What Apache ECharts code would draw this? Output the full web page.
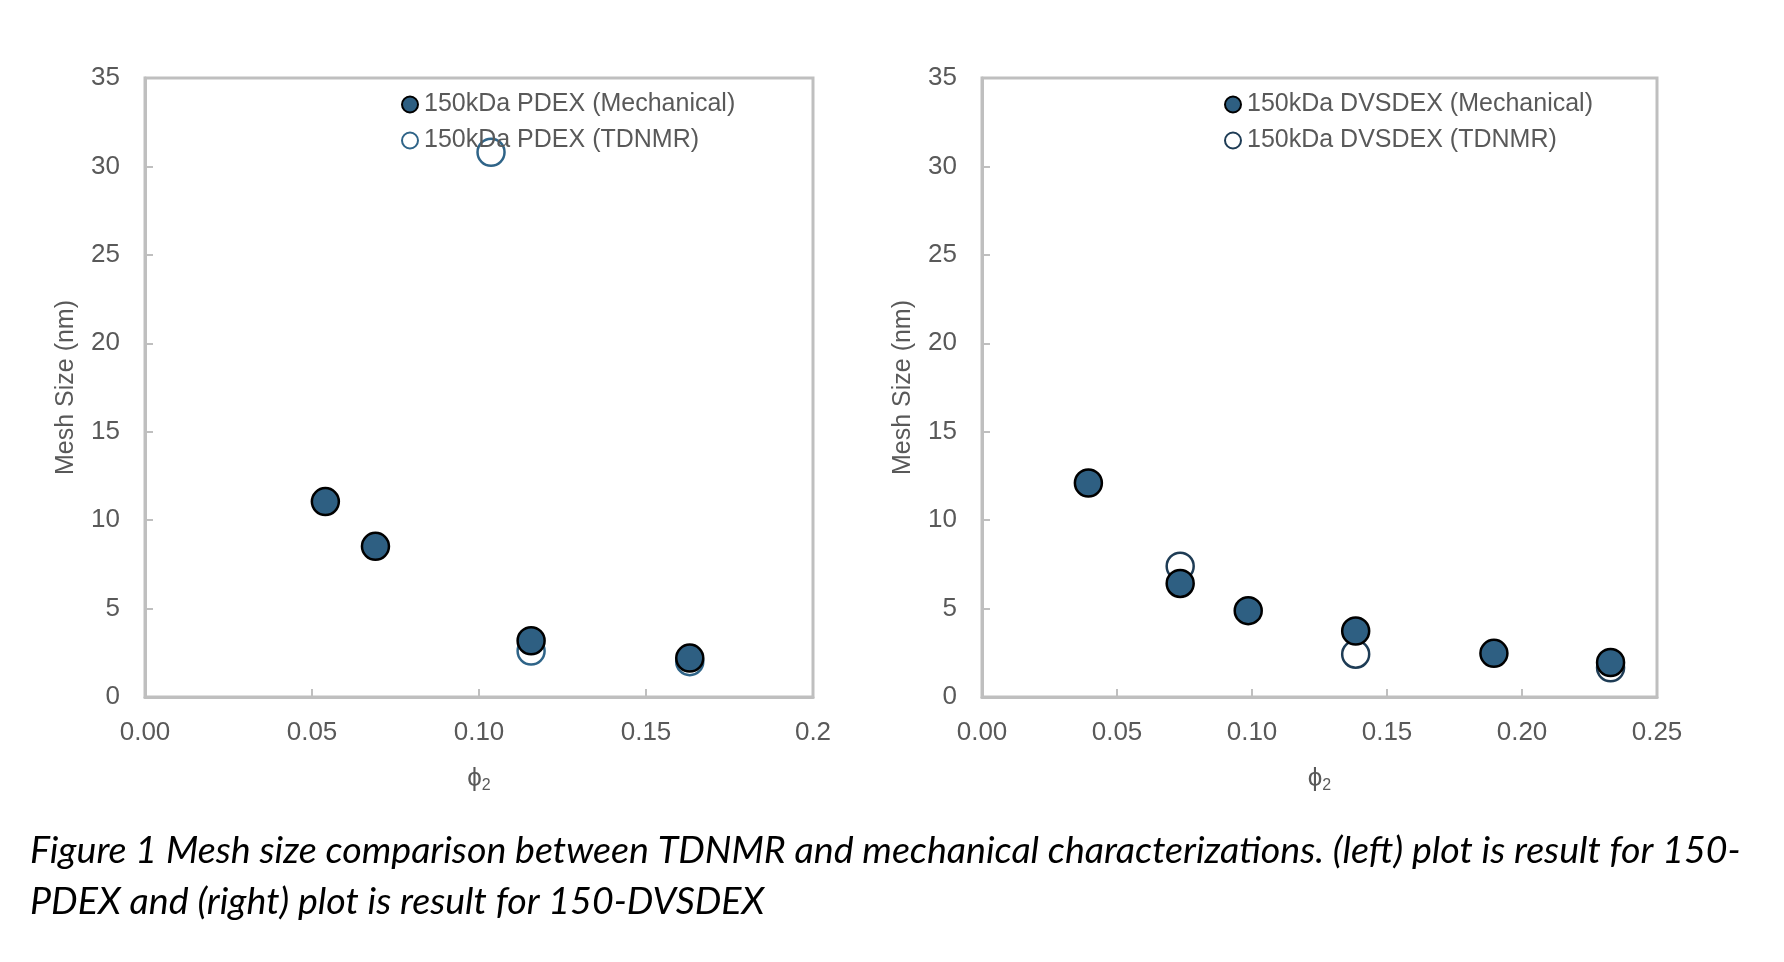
<!DOCTYPE html>
<html>
<head>
<meta charset="utf-8">
<script src="https://cdn.jsdelivr.net/npm/echarts@6/dist/echarts.min.js"></script>
<style>
  html, body { margin: 0; padding: 0; background: #fff; }
  #chart { width: 1784px; height: 962px; }
</style>
</head>
<body>
<div id="chart"></div>
<script>
// left panel: 150kDa PDEX
const pdexMechX = [0.054, 0.069, 0.1156, 0.1631];
const pdexMechY = [11.05, 8.52, 3.18, 2.2];
const pdexNmrX = [0.1036, 0.1156, 0.1631];
const pdexNmrY = [30.8, 2.6, 2.0];

// right panel: 150kDa DVSDEX
const dvsMechX = [0.0394, 0.0734, 0.0986, 0.1384, 0.1896, 0.2328];
const dvsMechY = [12.1, 6.42, 4.88, 3.73, 2.47, 1.95];
const dvsNmrX = [0.0734, 0.1384, 0.2328];
const dvsNmrY = [7.4, 2.42, 1.65];

const yTicks = [0, 5, 10, 15, 20, 25, 30, 35];
const leftXTicks = ['0.00', '0.05', '0.10', '0.15', '0.2'];
const rightXTicks = ['0.00', '0.05', '0.10', '0.15', '0.20', '0.25'];

const fill = '#2E5F82';
const axisGray = '#BFBFBF';
const textGray = '#595959';
const font = 'Liberation Sans, Arial, sans-serif';

function zip(xs, ys) {
    var out = [];
    for (var i = 0; i < xs.length; i++) out.push([xs[i], ys[i]]);
    return out;
}

function xAxisFor(idx, max, labels) {
    return {
        type: 'value',
        gridIndex: idx,
        min: 0,
        max: max,
        interval: 0.05,
        name: '\u03D5{sub|2}',
        nameLocation: 'middle',
        nameGap: 67,
        nameTextStyle: {
            color: textGray, fontSize: 26, fontFamily: font,
            rich: { sub: { fontSize: 16, color: textGray, verticalAlign: 'bottom', padding: [14, 0, 0, 0] } }
        },
        axisLine: { show: true, lineStyle: { color: axisGray, width: 3 } },
        axisTick: { show: true, inside: true, length: 8, lineStyle: { color: axisGray, width: 2 } },
        splitLine: { show: false },
        axisLabel: {
            color: textGray, fontSize: 26, fontFamily: font, margin: 23,
            formatter: function (v) { return labels[Math.round(v / 0.05)]; }
        }
    };
}

function yAxisFor(idx) {
    return {
        type: 'value',
        gridIndex: idx,
        min: yTicks[0],
        max: yTicks[yTicks.length - 1],
        interval: 5,
        name: 'Mesh Size (nm)',
        nameLocation: 'middle',
        nameGap: 66,
        nameTextStyle: { color: textGray, fontSize: 25, fontFamily: font },
        axisLine: { show: true, lineStyle: { color: axisGray, width: 3 } },
        axisTick: { show: true, inside: true, length: 8, lineStyle: { color: axisGray, width: 2 } },
        splitLine: { show: false },
        axisLabel: { color: textGray, fontSize: 26, fontFamily: font, margin: 25 }
    };
}

function legendFor(names, left) {
    return {
        data: names,
        orient: 'vertical',
        left: left,
        top: 87,
        itemWidth: 16,
        itemHeight: 16,
        itemGap: 11,
        icon: 'circle',
        textStyle: { color: textGray, fontSize: 25, fontFamily: font, padding: [0, 0, 0, 1] }
    };
}

var myChart = echarts.init(document.getElementById('chart'));

var option = {
    animation: false,
    backgroundColor: '#fff',
    title: {
        text: 'Figure 1 Mesh size comparison between TDNMR and mechanical characterizations. (left) plot is result for 150-\nPDEX and (right) plot is result for 150-DVSDEX',
        left: 25,
        top: 820,
        textStyle: {
            color: '#000', fontSize: 37.6, fontStyle: 'italic', fontWeight: 'normal',
            fontFamily: 'Lato, sans-serif', lineHeight: 51
        }
    },
    legend: [
        legendFor(['150kDa PDEX (Mechanical)', '150kDa PDEX (TDNMR)'], 396),
        legendFor(['150kDa DVSDEX (Mechanical)', '150kDa DVSDEX (TDNMR)'], 1219)
    ],
    grid: [
        { left: 145, top: 78, width: 668, height: 619, show: true, borderColor: axisGray, borderWidth: 3 },
        { left: 982, top: 78, width: 675, height: 619, show: true, borderColor: axisGray, borderWidth: 3 }
    ],
    xAxis: [
        xAxisFor(0, 0.2, leftXTicks),
        xAxisFor(1, 0.25, rightXTicks)
    ],
    yAxis: [yAxisFor(0), yAxisFor(1)],
    series: [
        {
            name: '150kDa PDEX (TDNMR)',
            type: 'scatter',
            xAxisIndex: 0, yAxisIndex: 0,
            symbolSize: 27,
            itemStyle: { color: '#fff', borderColor: '#2F6488', borderWidth: 2.5, opacity: 1 },
            data: zip(pdexNmrX, pdexNmrY)
        },
        {
            name: '150kDa PDEX (Mechanical)',
            type: 'scatter',
            xAxisIndex: 0, yAxisIndex: 0,
            symbolSize: 27,
            itemStyle: { color: fill, borderColor: '#000', borderWidth: 2.5, opacity: 1 },
            data: zip(pdexMechX, pdexMechY)
        },
        {
            name: '150kDa DVSDEX (TDNMR)',
            type: 'scatter',
            xAxisIndex: 1, yAxisIndex: 1,
            symbolSize: 27,
            itemStyle: { color: '#fff', borderColor: '#1E3C55', borderWidth: 2.5, opacity: 1 },
            data: zip(dvsNmrX, dvsNmrY)
        },
        {
            name: '150kDa DVSDEX (Mechanical)',
            type: 'scatter',
            xAxisIndex: 1, yAxisIndex: 1,
            symbolSize: 27,
            itemStyle: { color: fill, borderColor: '#000', borderWidth: 2.5, opacity: 1 },
            data: zip(dvsMechX, dvsMechY)
        }
    ]
};

myChart.setOption(option);
</script>
</body>
</html>
